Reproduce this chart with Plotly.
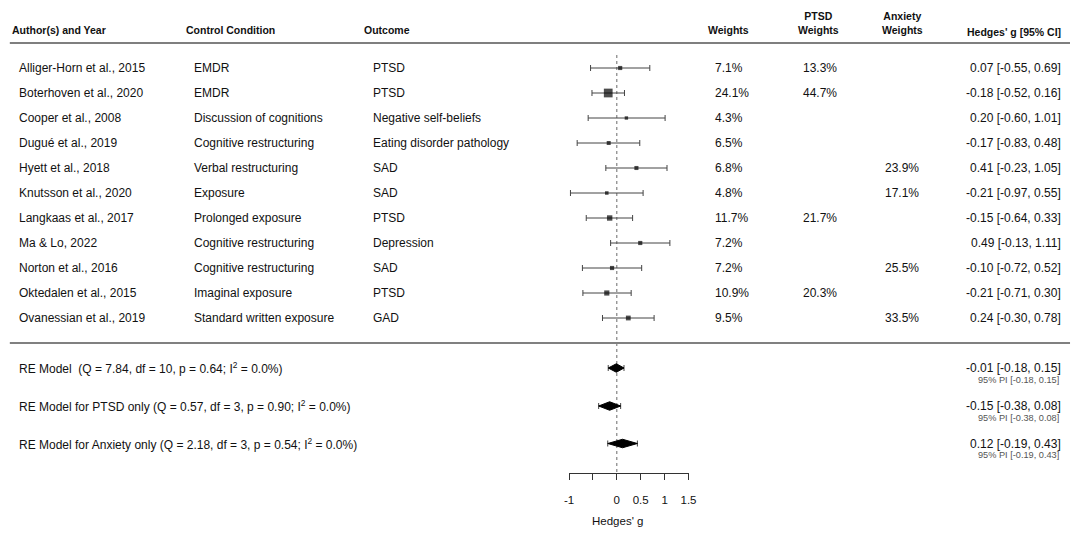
import plotly.graph_objects as go

# ---------------- data ----------------
authors = ["Alliger-Horn et al., 2015", "Boterhoven et al., 2020", "Cooper et al., 2008",
           "Dugué et al., 2019", "Hyett et al., 2018", "Knutsson et al., 2020",
           "Langkaas et al., 2017", "Ma & Lo, 2022", "Norton et al., 2016",
           "Oktedalen et al., 2015", "Ovanessian et al., 2019"]
controls = ["EMDR", "EMDR", "Discussion of cognitions", "Cognitive restructuring",
            "Verbal restructuring", "Exposure", "Prolonged exposure",
            "Cognitive restructuring", "Cognitive restructuring", "Imaginal exposure",
            "Standard written exposure"]
outcomes = ["PTSD", "PTSD", "Negative self-beliefs", "Eating disorder pathology", "SAD",
            "SAD", "PTSD", "Depression", "SAD", "PTSD", "GAD"]
weights = [7.1, 24.1, 4.3, 6.5, 6.8, 4.8, 11.7, 7.2, 7.2, 10.9, 9.5]
ptsd_weights = [13.3, 44.7, None, None, None, None, 21.7, None, None, 20.3, None]
anx_weights = [None, None, None, None, 23.9, 17.1, None, None, 25.5, None, 33.5]
g = [0.07, -0.18, 0.20, -0.17, 0.41, -0.21, -0.15, 0.49, -0.10, -0.21, 0.24]
ci_lo = [-0.55, -0.52, -0.60, -0.83, -0.23, -0.97, -0.64, -0.13, -0.72, -0.71, -0.30]
ci_hi = [0.69, 0.16, 1.01, 0.48, 1.05, 0.55, 0.33, 1.11, 0.52, 0.30, 0.78]

sum_labels = ["RE Model  (Q = 7.84, df = 10, p = 0.64; I<sup>2</sup> = 0.0%)",
              "RE Model for PTSD only (Q = 0.57, df = 3, p = 0.90; I<sup>2</sup> = 0.0%)",
              "RE Model for Anxiety only (Q = 2.18, df = 3, p = 0.54; I<sup>2</sup> = 0.0%)"]
sum_est = [-0.01, -0.15, 0.12]
sum_lo = [-0.18, -0.38, -0.19]
sum_hi = [0.15, 0.08, 0.43]
pi_lo = [-0.18, -0.38, -0.19]
pi_hi = [0.15, 0.08, 0.43]

tick_vals = [-1, 0, 0.5, 1, 1.5]
tick_text = ["-1", "0", "0.5", "1", "1.5"]
minor_tick_vals = [-0.5]
headers = ["Author(s) and Year", "Control Condition", "Outcome", "Weights",
           "PTSD<br>Weights", "Anxiety<br>Weights", "Hedges' g [95% CI]"]
x_label = "Hedges' g"

# ---------------- layout constants ----------------
W, H = 1076, 536
FONT = "Liberation Sans, Arial, sans-serif"
study_rows = list(range(1, len(authors) + 1))
sum_rows = [13, 14.52, 16.02]
ROW_TOP_PX, ROW_PX = 68, 25
AX_BOTTOM_PX = 473
X_LEFT_PX, X_RIGHT_PX = 569, 688
X_SHIFT, X_SCALE = 7.2, 0.984   # compensation for horizontal rendering offset


def px_to_row(p):
    return (p - ROW_TOP_PX) / ROW_PX + 1


def px(xp):
    return ((xp - X_SHIFT) / X_SCALE) / W


def ci_text(e, l, h):
    return "{:.2f} [{:.2f}, {:.2f}]".format(e, l, h)


fig = go.Figure()

# reference line at 0
fig.add_trace(go.Scatter(x=[0, 0], y=[px_to_row(55), px_to_row(AX_BOTTOM_PX)], mode="lines",
                         line=dict(color="#6a6a6a", width=1, dash="dot"),
                         hoverinfo="skip", showlegend=False, cliponaxis=False))

# study CIs + squares
sizes = [3.4 + 0.27 * (w - 4.3) for w in weights]
fig.add_trace(go.Scatter(
    x=g, y=study_rows, mode="markers",
    marker=dict(symbol="square", size=sizes, color="black", line=dict(width=0)),
    error_x=dict(type="data", symmetric=False,
                 array=[h - e for h, e in zip(ci_hi, g)],
                 arrayminus=[e - l for e, l in zip(g, ci_lo)],
                 color="#444444", thickness=1, width=3),
    showlegend=False, cliponaxis=False))

# prediction interval whiskers for summaries
fig.add_trace(go.Scatter(
    x=sum_est, y=sum_rows, mode="markers", marker=dict(size=1, color="rgba(0,0,0,0)"),
    error_x=dict(type="data", symmetric=False,
                 array=[h - e for h, e in zip(pi_hi, sum_est)],
                 arrayminus=[e - l for e, l in zip(sum_est, pi_lo)],
                 color="#444444", thickness=1, width=3),
    showlegend=False, cliponaxis=False))

# diamonds
DH = 0.17
for est, lo, hi, r in zip(sum_est, sum_lo, sum_hi, sum_rows):
    fig.add_trace(go.Scatter(x=[lo, est, hi, est, lo], y=[r, r - DH, r, r + DH, r],
                             mode="lines", fill="toself", fillcolor="black",
                             line=dict(color="black", width=1),
                             showlegend=False, cliponaxis=False, hoverinfo="skip"))

ann = []
txt = dict(family=FONT, size=12, color="#111111")
hdr = dict(family=FONT, size=10.5, color="#111111")

# headers
hdr_pos = [(12, "left", -0.52), (185, "left", -0.52), (363, "left", -0.52),
           (728, "center", -0.52), (817, "center", -0.8), (901, "center", -0.8),
           (1061, "right", -0.46)]
for h, (xp, anc, r) in zip(headers, hdr_pos):
    ann.append(dict(x=px(xp), xref="paper", y=r, yref="y", text="<b>" + h + "</b>",
                    xanchor=anc, yanchor="middle", showarrow=False, font=hdr, align="center"))

# study rows
for i, r in enumerate(study_rows):
    ann.append(dict(x=px(19), y=r, text=authors[i], xanchor="left"))
    ann.append(dict(x=px(193), y=r, text=controls[i], xanchor="left"))
    ann.append(dict(x=px(372), y=r, text=outcomes[i], xanchor="left"))
    ann.append(dict(x=px(712), y=r, text="{:.1f}%".format(weights[i]), xanchor="left"))
    if ptsd_weights[i] is not None:
        ann.append(dict(x=px(800), y=r, text="{:.1f}%".format(ptsd_weights[i]), xanchor="left"))
    if anx_weights[i] is not None:
        ann.append(dict(x=px(882), y=r, text="{:.1f}%".format(anx_weights[i]), xanchor="left"))
    ann.append(dict(x=px(1061), y=r, text=ci_text(g[i], ci_lo[i], ci_hi[i]), xanchor="right"))

# summary rows
for i, r in enumerate(sum_rows):
    ann.append(dict(x=px(19), y=r, text=sum_labels[i], xanchor="left"))
    ann.append(dict(x=px(1061), y=r, text=ci_text(sum_est[i], sum_lo[i], sum_hi[i]),
                    xanchor="right"))
    ann.append(dict(x=px(1059), y=r + 0.46,
                    text="95% PI [{:.2f}, {:.2f}]".format(pi_lo[i], pi_hi[i]),
                    xanchor="right", font=dict(family=FONT, size=9.2, color="#555555")))

for a in ann:
    a.setdefault("xref", "paper")
    a.setdefault("yref", "y")
    a.setdefault("yanchor", "middle")
    a.setdefault("showarrow", False)
    a.setdefault("font", txt)

# x-axis title
ann.append(dict(x=px(617), xref="paper", y=1 - 521 / H, yref="paper", text=x_label,
                showarrow=False, xanchor="center", yanchor="middle",
                font=dict(family=FONT, size=11.5, color="#111111")))

shapes = [
    dict(type="line", xref="paper", yref="y", x0=px(12), x1=px(1068), y0=px_to_row(43),
         y1=px_to_row(43), line=dict(color="#555555", width=1.3)),
    dict(type="line", xref="paper", yref="y", x0=px(12), x1=px(1068), y0=px_to_row(343),
         y1=px_to_row(343), line=dict(color="#808080", width=2)),
]

fig.update_layout(
    width=W, height=H, margin=dict(l=0, r=0, t=0, b=0),
    paper_bgcolor="white", plot_bgcolor="white",
    annotations=ann, shapes=shapes,
    font=dict(family=FONT, size=12, color="#111111"),
    xaxis=dict(domain=[px(X_LEFT_PX), px(X_RIGHT_PX)], range=[-1, 1.5], showgrid=False,
               zeroline=False, showline=True, linecolor="#333333", linewidth=1,
               ticks="outside", ticklen=6, tickcolor="#333333", tickwidth=1,
               tickvals=tick_vals, ticktext=tick_text, ticklabelstandoff=10,
               minor=dict(tickvals=minor_tick_vals, ticks="outside", ticklen=6,
                          tickcolor="#333333", tickwidth=1, showgrid=False),
               tickfont=dict(family=FONT, size=11.5, color="#111111"), fixedrange=True),
    yaxis=dict(domain=[1 - AX_BOTTOM_PX / H, 1], range=[px_to_row(AX_BOTTOM_PX), px_to_row(0)],
               visible=False, fixedrange=True),
    showlegend=False,
)

fig.write_html("out.html", config={"displayModeBar": False},
               post_script="document.body.style.margin='0';document.body.style.overflow='hidden';")
